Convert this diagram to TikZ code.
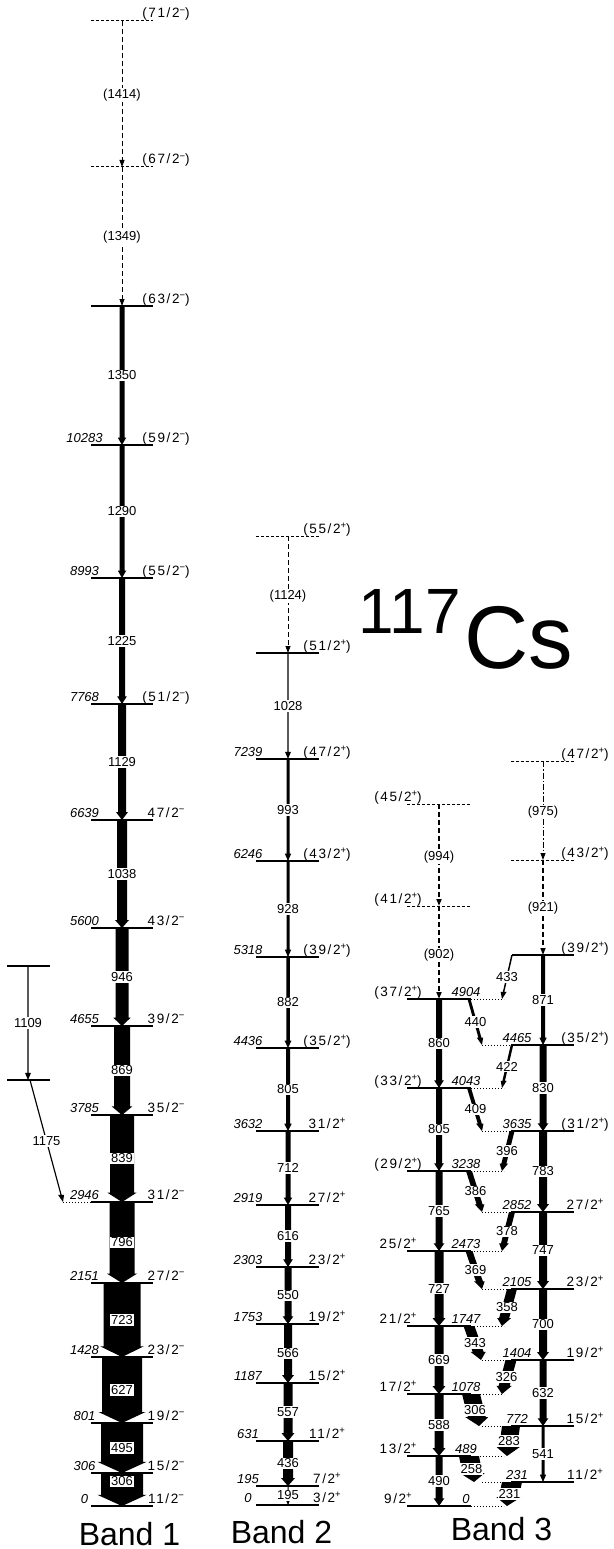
\documentclass[tikz,border=0pt]{standalone}
\usepackage{fontspec}
\setmainfont{Liberation Sans}
\newfontfamily\spinfont[LetterSpace=12]{Liberation Sans}
\usetikzlibrary{arrows.meta}
\newcommand{\jneg}[1]{#1/2\raisebox{.7ex}{\fontsize{9.5}{9.5}\selectfont −}}
\newcommand{\jpos}[1]{#1/2\raisebox{.7ex}{\fontsize{9.5}{9.5}\selectfont +}}
% gamma ray: [label pos] x1 y1 x2 y2 width energy
\newcommand{\gam}[7][0.5]{%
  \pgfmathsetmacro{\hw}{#6/2}%
  \pgfmathsetmacro{\hl}{7+#6/10}%
  \pgfmathsetmacro{\fl}{max(\hw+1.5+#6/20,3)}%
  \pgfmathsetmacro{\hx}{#4-(#4-#2)*\hl/(#5-#3)}%
  \pgfmathsetmacro{\hy}{#5-\hl}%
  \fill (#2-\hw,#3) -- (#2+\hw,#3) -- (\hx+\hw,\hy) -- (\hx+\fl,\hy) -- (#4,#5)
    -- (\hx-\fl,\hy) -- (\hx-\hw,\hy) -- cycle;
  \node[glab] at ({#2+#1*(#4-#2)},{#3+#1*(#5-#3)}) {#7};%
}

\begin{document}
\begin{tikzpicture}[x=1pt, y=-1pt,
  lvl/.style={line width=1.1pt},
  ulvl/.style={line width=1pt, dash pattern=on 2.5pt off 2.5pt},
  xlvl/.style={line width=1pt, dash pattern=on 1.2pt off 1.8pt},
  elab/.style={font=\fontsize{13}{14}\selectfont\itshape, anchor=base, inner sep=0pt},
  jlab/.style={font=\spinfont\fontsize{13.5}{14}\selectfont, anchor=base, inner sep=0pt},
  glab/.style={font=\fontsize{13}{14}\selectfont, fill=white, inner sep=1pt},
  dgam/.style={line width=0.8pt, dash pattern=on 5pt off 3pt, -{Triangle[width=5pt,length=7pt]}},
  bandlab/.style={font=\fontsize{32}{34}\selectfont, anchor=base, inner sep=0pt}]
\useasboundingbox (0,0) rectangle (613,1549);

% band 1
\foreach \y/\j in {21/(\jneg{71}), 167/(\jneg{67})} {
  \draw[ulvl] (91,\y) -- (153,\y);
  \node[jlab] at (166,\y-3) {\j};
}
\foreach \y/\e/\j in {306//(\jneg{63}), 445/10283/(\jneg{59}), 578/8993/(\jneg{55}),
  704/7768/(\jneg{51}), 820/6639/\jneg{47}, 928/5600/\jneg{43}, 1026/4655/\jneg{39},
  1115/3785/\jneg{35}, 1202/2946/\jneg{31}, 1283/2151/\jneg{27}, 1357/1428/\jneg{23},
  1423/801/\jneg{19}, 1473/306/\jneg{15}, 1506/0/\jneg{11}} {
  \draw[lvl] (91,\y) -- (153,\y);
  \node[elab] at (84.5,\y-2.5) {\e};
  \node[jlab] at (166,\y-3) {\j};
}
\draw[dgam] (122,21) -- (122,167);
\node[glab] at (122,95) {(1414)};
\draw[dgam] (122,167) -- (122,306);
\node[glab] at (122,237) {(1349)};
\foreach \a/\b/\w/\g in {306/445/5/1350, 445/578/5/1290, 578/704/6/1225, 704/820/8/1129,
  820/928/10/1038, 928/1026/13/946, 1026/1115/16/869, 1115/1202/24/839, 1202/1283/25/796,
  1283/1357/37/723, 1357/1423/40/627, 1423/1473/42/495}
  {\gam{122}{\a}{122}{\b}{\w}{\g}}
\gam[0.25]{122}{1473}{122}{1506}{42}{306}

% side feeding into band 1
\draw[lvl] (7,966) -- (50,966);
\draw[lvl] (7,1080) -- (50,1080);
\gam{28}{966}{28}{1080}{1.2}{1109}
\gam{30}{1080}{63}{1202}{1.2}{1175}
\draw[xlvl] (63,1202) -- (91,1202);

% band 2
\draw[ulvl] (256,536) -- (319,536);
\node[jlab] at (327,533) {(\jpos{55})};
\foreach \y/\e/\j in {653//(\jpos{51}), 759/7239/(\jpos{47}), 861/6246/(\jpos{43}),
  957/5318/(\jpos{39}), 1048/4436/(\jpos{35}), 1131/3632/\jpos{31}, 1205/2919/\jpos{27},
  1267/2303/\jpos{23}, 1324/1753/\jpos{19}, 1383/1187/\jpos{15}, 1441/631/\jpos{11},
  1486/195/\jpos{7}, 1505/0/\jpos{3}} {
  \draw[lvl] (256,\y) -- (319,\y);
  \node[elab] at (248,\y-2.5) {\e};
  \node[jlab] at (327,\y-3) {\j};
}
\draw[dgam] (288,536) -- (288,653);
\node[glab] at (288,596) {(1124)};
\foreach \a/\b/\w/\g in {653/759/1.3/1028, 759/861/3/993, 861/957/3/928, 957/1048/3.5/882,
  1048/1131/4/805, 1131/1205/5/712, 1205/1267/6/616, 1267/1324/7/550, 1324/1383/8/566,
  1383/1441/9/557, 1441/1486/10/436, 1486/1505/1/195}
  {\gam{288}{\a}{288}{\b}{\w}{\g}}

% band 3
\foreach \y/\j in {804/(\jpos{45}), 906/(\jpos{41})} {
  \draw[ulvl] (407,\y) -- (471,\y);
  \node[jlab] at (398,\y-3) {\j};
}
\foreach \y/\j in {761/(\jpos{47}), 860/(\jpos{43})} {
  \draw[ulvl] (511,\y) -- (574,\y);
  \node[jlab] at (585,\y-3) {\j};
}
\foreach \y/\e/\j in {999/4904/(\jpos{37}), 1088/4043/(\jpos{33}), 1171/3238/(\jpos{29}),
  1251/2473/\jpos{25}, 1326/1747/\jpos{21}, 1394/1078/\jpos{17}, 1456/489/\jpos{13},
  1506/0/\jpos{9}} {
  \draw[lvl] (407,\y) -- (471,\y);
  \draw[xlvl] (471,\y) -- (504,\y);
  \node[jlab] at (398,\y-3) {\j};
  \node[elab] at (466,\y-2.5) {\e};
}
\draw[lvl] (512,955) -- (574,955);
\node[jlab] at (585,952) {(\jpos{39})};
\foreach \y/\e/\j in {1045/4465/(\jpos{35}), 1131/3635/(\jpos{31}), 1212/2852/\jpos{27},
  1289/2105/\jpos{23}, 1360/1404/\jpos{19}, 1426/772/\jpos{15}, 1482/231/\jpos{11}} {
  \draw[xlvl] (482,\y) -- (511,\y);
  \draw[lvl] (511,\y) -- (574,\y);
  \node[elab] at (517,\y-2.5) {\e};
  \node[jlab] at (585,\y-3) {\j};
}
\draw[dgam, line width=2.2pt] (439,804) -- (439,906);
\node[glab] at (439,857) {(994)};
\draw[dgam, line width=2.2pt] (439,906) -- (439,999);
\node[glab] at (439,955) {(902)};
\draw[dgam, dash pattern=on 6pt off 2pt on 1.5pt off 2pt] (543,761) -- (543,860);
\node[glab] at (543,812) {(975)};
\draw[dgam, line width=1.3pt] (543,860) -- (543,955);
\node[glab] at (543,908) {(921)};
\foreach \a/\b/\w/\g in {999/1088/6/860, 1088/1171/6/805, 1171/1251/7/765, 1251/1326/9/727,
  1326/1394/9/669, 1394/1456/9/588, 1456/1506/7/490}
  {\gam{439}{\a}{439}{\b}{\w}{\g}}
\foreach \a/\b/\w/\g in {955/1045/4/871, 1045/1131/7/830, 1131/1212/8/783, 1212/1289/8/747,
  1289/1360/8/700, 1360/1426/7/632, 1426/1482/3/541}
  {\gam{543}{\a}{543}{\b}{\w}{\g}}
% interband
\foreach \xa/\ya/\xb/\yb/\w/\g in {512/955/502/999/1.5/433, 469/999/482/1045/3/440,
  512/1045/502/1088/2.5/422, 469/1088/482/1131/4/409, 512/1131/502/1171/5/396,
  469/1171/482/1212/6/386, 512/1212/502/1251/6/378, 469/1251/482/1289/7/369,
  512/1289/502/1326/10/358, 469/1326/481/1360/11/343, 511/1360/502/1394/11/326,
  471/1394/479/1426/18/306, 511/1426/507/1456/18/283, 469/1456/474/1482/20/258,
  512/1482/507/1506/20/231}
  {\gam{\xa}{\ya}{\xb}{\yb}{\w}{\g}}

% titles
\node[font=\fontsize{64}{64}\selectfont, anchor=base east, inner sep=0pt] (mass) at (461,633) {117};
\node[font=\fontsize{89}{89}\selectfont, anchor=base west, inner sep=0pt] (elem) at (464,668) {Cs};
\node[bandlab] (band1) at (129.5,1545) {Band 1};
\node[bandlab] (band2) at (281.5,1543) {Band 2};
\node[bandlab] (band3) at (501.5,1540) {Band 3};
\end{tikzpicture}
\end{document}
